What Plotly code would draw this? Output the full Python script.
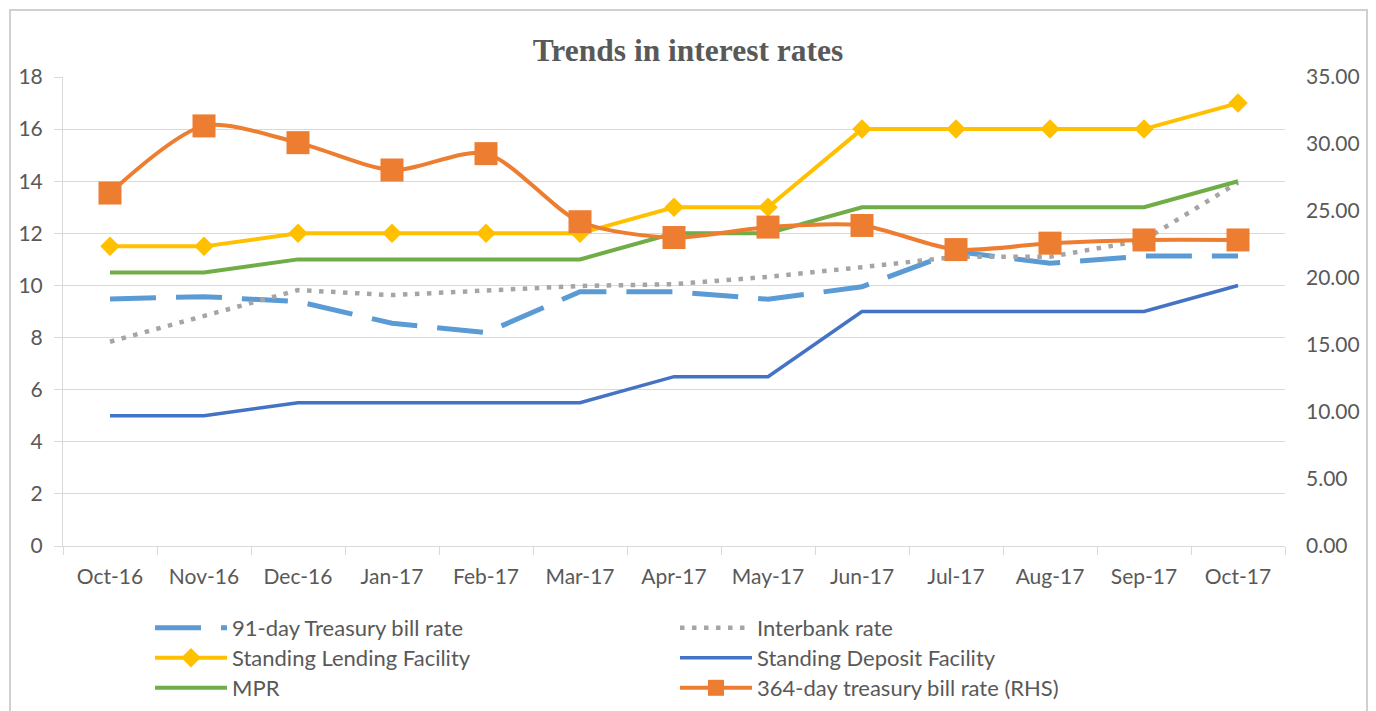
import plotly.graph_objects as go

months = ["Oct-16", "Nov-16", "Dec-16", "Jan-17", "Feb-17", "Mar-17", "Apr-17",
          "May-17", "Jun-17", "Jul-17", "Aug-17", "Sep-17", "Oct-17"]
tbill_91 = [9.48, 9.57, 9.38, 8.55, 8.19, 9.76, 9.76, 9.47, 9.95, 11.3, 10.85, 11.13, 11.13]
interbank = [7.84, 8.85, 9.82, 9.63, 9.82, 9.98, 10.05, 10.33, 10.7, 11.1, 11.1, 11.74, 13.95]
slf = [11.5, 11.5, 12, 12, 12, 12, 13, 13, 16, 16, 16, 16, 17]
sdf = [5, 5, 5.5, 5.5, 5.5, 5.5, 6.5, 6.5, 9, 9, 9, 9, 10]
mpr = [10.5, 10.5, 11, 11, 11, 11, 12, 12, 13, 13, 13, 13, 14]
tbill_364 = [26.34, 31.35, 30.1, 28.06, 29.28, 24.2, 23.02, 23.8, 23.92, 22.12, 22.6, 22.84, 22.84]

FONT = "Lato, 'Open Sans', sans-serif"
GREY = "#595959"
GRID = "#d9d9d9"

# plot area geometry (px) used to place legends
L, R, T, B = 63, 1285, 77, 546
W, H = R - L, B - T

def px(x):
    return (x - L) / W

def py(y):
    return (B - y) / H

fig = go.Figure()
fig.add_trace(go.Scatter(x=months, y=tbill_91, name="91-day Treasury bill rate", mode="lines",
                         line=dict(color="#5B9BD5", width=5, dash="46px,20px"), legend="legend"))
fig.add_trace(go.Scatter(x=months, y=interbank, name="Interbank rate", mode="lines",
                         line=dict(color="#A5A5A5", width=4.5, dash="4.5px,7.5px"), legend="legend2"))
fig.add_trace(go.Scatter(x=months, y=slf, name="Standing Lending Facility", mode="lines+markers",
                         line=dict(color="#FFC000", width=4),
                         marker=dict(symbol="diamond", size=15, color="#FFC000"), legend="legend3"))
fig.add_trace(go.Scatter(x=months, y=sdf, name="Standing Deposit Facility", mode="lines",
                         line=dict(color="#4472C4", width=3.5), legend="legend4"))
fig.add_trace(go.Scatter(x=months, y=mpr, name="MPR", mode="lines",
                         line=dict(color="#70AD47", width=4), legend="legend5"))
fig.add_trace(go.Scatter(x=months, y=tbill_364, name="364-day treasury bill rate (RHS)",
                         mode="lines+markers", yaxis="y2",
                         line=dict(color="#ED7D31", width=4, shape="spline", smoothing=0.8),
                         marker=dict(symbol="square", size=23, color="#ED7D31"), legend="legend6"))

leg_common = dict(orientation="h", xanchor="left", yanchor="middle", itemwidth=72,
                  font=dict(family=FONT, size=22, color=GREY), bgcolor="rgba(0,0,0,0)",
                  itemclick=False)
rows = [628, 658, 688]
col1, col2 = 150, 675

fig.update_layout(
    width=1376, height=711, showlegend=True,
    margin=dict(l=L, r=1376 - R, t=T, b=711 - B, autoexpand=False),
    paper_bgcolor="white", plot_bgcolor="white",
    title=dict(text="<b>Trends in interest rates</b>", x=0.5, xref="container", xanchor="center",
               y=1 - 50 / 711, yanchor="middle",
               font=dict(family="'Liberation Serif', 'Times New Roman', serif", size=31.5, color=GREY)),
    xaxis=dict(type="category", showgrid=False, showline=True, linecolor=GRID, linewidth=1,
               ticks="outside", tickson="boundaries", ticklen=8, tickcolor=GRID,
               tickfont=dict(family=FONT, size=21, color=GREY), ticklabelstandoff=12,
               range=[-0.5, 12.5]),
    yaxis=dict(range=[0, 18], dtick=2, tick0=0, showgrid=True, gridcolor=GRID, gridwidth=1,
               showline=True, linecolor=GRID, linewidth=1, ticks="outside", ticklen=8,
               tickcolor=GRID, zeroline=False,
               tickfont=dict(family=FONT, size=21, color=GREY), ticklabelstandoff=7),
    yaxis2=dict(range=[0, 35], dtick=5, tick0=0, overlaying="y", side="right", showgrid=False,
                zeroline=False, showline=False, tickformat=".2f", ticks="",
                tickfont=dict(family=FONT, size=21, color=GREY), ticklabelstandoff=20),
    legend=dict(x=px(col1), y=py(rows[0]), **leg_common),
    legend2=dict(x=px(col2), y=py(rows[0]), **leg_common),
    legend3=dict(x=px(col1), y=py(rows[1]), **leg_common),
    legend4=dict(x=px(col2), y=py(rows[1]), **leg_common),
    legend5=dict(x=px(col1), y=py(rows[2]), **leg_common),
    legend6=dict(x=px(col2), y=py(rows[2]), **leg_common),
    shapes=[dict(type="rect", xref="paper", yref="paper",
                 x0=px(10), x1=px(1367), y0=py(740), y1=py(10),
                 line=dict(color="#d0d0d0", width=2), fillcolor="rgba(0,0,0,0)", layer="below")],
)

fig.write_html("out.html", config={"displayModeBar": False},
               post_script="document.body.style.margin='0';")
